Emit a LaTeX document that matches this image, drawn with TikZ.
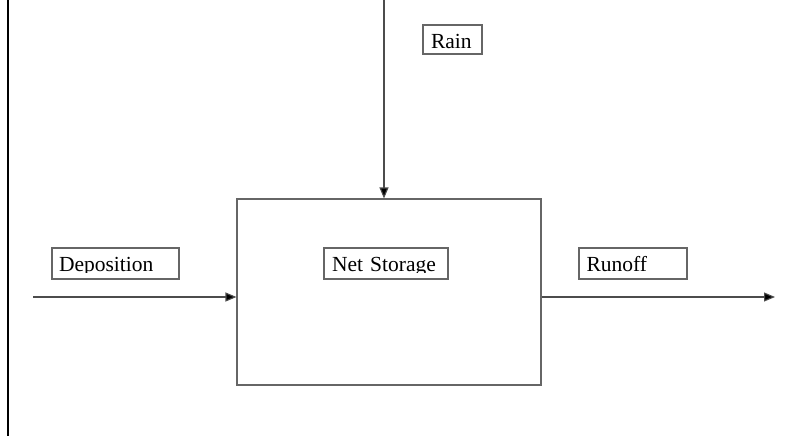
\documentclass[tikz,border=0pt]{standalone}
\usepackage{fontspec}
\setmainfont{Liberation Serif}
\usetikzlibrary{arrows.meta,calc}
\begin{document}
\begin{tikzpicture}[x=1pt,y=-1pt,
  edge/.style={draw=black!70, line width=1.1pt},
  flow/.style={edge, -{Triangle[length=11pt,width=9pt,fill=black]}},
  lbl/.style={draw=black!60, line width=1.1pt, font=\fontsize{21.5}{25}\selectfont,
    text depth=0pt, align=left, anchor=center},
  storebox/.style={draw=black!60, line width=1.1pt, inner sep=0pt,
    minimum width=304pt, minimum height=186pt},
  mask/.style={fill=white, draw=none}]
\useasboundingbox (0,0) rectangle (790,436);
% left border line
\coordinate (lt) at (8,0);
\coordinate (lb) at (8,436);
\draw[line width=2.2pt, black] (lt) -- (lb);
% main box
\node[storebox] (store) at (389,292) {};
% labels
\node[lbl, text width=113pt, inner xsep=7pt, inner ysep=7.3pt, text height=16.4pt] (dep) at (115.5,263.5) {Deposition};
\node[lbl, text width=108pt, inner xsep=8pt, inner ysep=7.3pt, text height=16.4pt] (net) at (386,263.5) {Net Storage};
\node[lbl, text width=93pt, inner xsep=7.5pt, inner ysep=7.3pt, text height=16.4pt] (run) at (633,263.5) {Runoff};
\node[lbl, text width=43pt, inner xsep=8pt, inner ysep=5.3pt, text height=18.4pt] (rain) at (452.5,39.5) {Rain};
% clipped descenders
\fill[mask] ($(dep.south west)+(1.3,-1.3)$) rectangle ($(dep.south east)+(-1.3,-6.2)$);
\fill[mask] ($(net.south west)+(1.3,-1.3)$) rectangle ($(net.south east)+(-1.3,-6.2)$);
% arrows
\coordinate (rainsrc) at (384,0);
\coordinate (depsrc) at (33,297);
\coordinate (runend) at (775,297);
\draw[flow] (rainsrc) -- (rainsrc |- store.north);
\draw[flow] (depsrc) -- (depsrc -| store.west);
\draw[flow] (runend -| store.east) -- (runend);
\end{tikzpicture}
\end{document}
